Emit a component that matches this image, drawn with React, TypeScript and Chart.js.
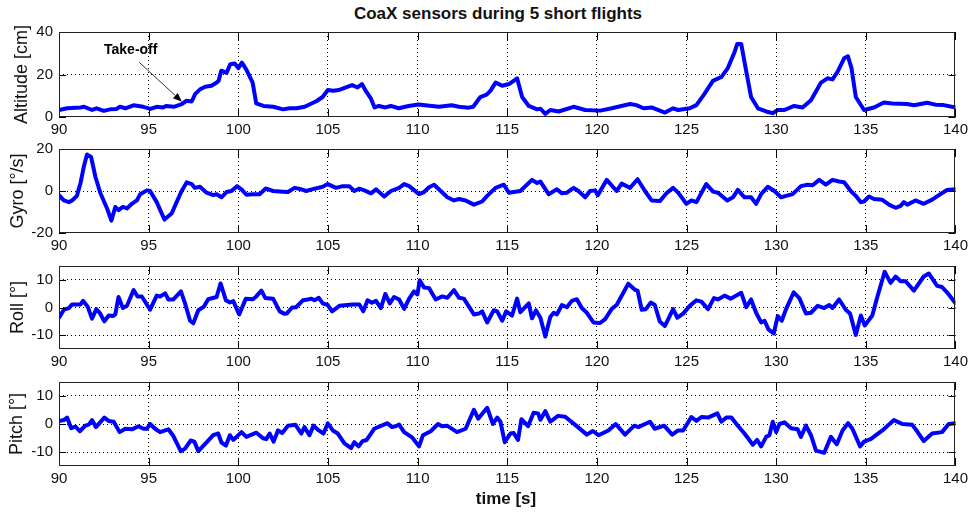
import React, { useEffect, useRef } from 'react';
import { Chart, registerables } from 'chart.js';

Chart.register(...registerables);

const FONT = '"Liberation Sans", Arial, Helvetica, sans-serif';

// ---------- text ----------
const titleText = 'CoaX sensors during 5 short flights';
const xLabel = 'time [s]';
const takeoffText = 'Take-off';

// ---------- x axis ----------
const xMin = 90;
const xMax = 140;
const xTicks = [90, 95, 100, 105, 110, 115, 120, 125, 130, 135, 140];

// ---------- Altitude ----------
const altLabel = 'Altitude [cm]';
const altTicks = [0, 20, 40];
const altTime = [90, 90.45, 91.2, 91.4, 91.85, 92.1, 92.5, 92.85, 93.2, 93.4, 93.7, 94.15, 94.7, 95.1, 95.45, 95.8, 96.0, 96.4, 96.85, 97.1, 97.4, 97.6, 97.85, 98.15, 98.5, 98.8, 98.9, 99.05, 99.35, 99.55, 99.8, 100.0, 100.2, 100.45, 100.8, 101.0, 101.4, 101.95, 102.5, 102.85, 103.25, 103.7, 104.35, 104.7, 105.0, 105.3, 105.6, 106.0, 106.35, 106.65, 106.9, 107.1, 107.4, 107.6, 107.85, 108.2, 108.5, 108.95, 109.5, 110.05, 110.8, 111.2, 111.9, 112.3, 112.85, 113.1, 113.5, 113.85, 114.07, 114.35, 114.72, 115.1, 115.55, 115.83, 116.2, 116.66, 116.85, 117.12, 117.4, 117.86, 118.7, 119.35, 120.18, 120.83, 121.85, 122.2, 122.6, 123.05, 123.33, 123.8, 124.25, 124.53, 125.18, 125.55, 126.0, 126.47, 126.94, 127.3, 127.68, 127.83, 128.05, 128.33, 128.6, 128.98, 129.44, 129.8, 130.09, 130.46, 131.0, 131.47, 131.94, 132.5, 132.86, 133.14, 133.42, 133.79, 134.0, 134.2, 134.44, 134.9, 135.46, 136.0, 136.47, 137.3, 137.68, 138.42, 138.88, 139.35, 140];
const altValues = [3.3, 4.1, 4.5, 4.8, 3.3, 4.1, 2.9, 3.6, 3.8, 4.8, 4.1, 5.5, 4.8, 3.8, 4.8, 4.5, 5.2, 4.8, 6.1, 7.6, 7.3, 10.9, 12.9, 14.2, 14.7, 16.2, 17.0, 21.8, 20.8, 24.8, 25.2, 23.0, 25.6, 22.3, 16.2, 6.4, 5.2, 4.8, 3.6, 4.1, 4.1, 4.8, 7.4, 9.4, 12.7, 12.4, 12.7, 13.9, 15.0, 13.9, 15.5, 12.4, 8.6, 4.5, 5.2, 4.5, 5.2, 4.1, 5.2, 5.9, 5.2, 4.8, 5.5, 4.8, 4.4, 4.8, 9.4, 10.5, 12.4, 16.2, 14.7, 15.5, 18.2, 9.4, 5.2, 3.6, 3.9, 1.5, 3.3, 2.6, 4.8, 3.3, 3.0, 4.1, 6.1, 5.6, 4.1, 4.5, 3.6, 2.1, 4.1, 3.3, 4.1, 5.6, 10.9, 17.0, 18.8, 23.0, 30.6, 34.4, 34.4, 21.5, 9.4, 4.1, 2.6, 1.8, 3.3, 3.3, 5.2, 4.5, 7.9, 16.2, 18.2, 17.7, 21.2, 27.6, 28.6, 23.0, 9.4, 3.3, 4.5, 6.8, 6.4, 6.1, 5.5, 6.7, 5.8, 5.6, 4.5];

// ---------- Gyro ----------
const gyroLabel = 'Gyro [°/s]';
const gyroTicks = [-20, 0, 20];
const gyroTime = [90, 90.27, 90.55, 90.73, 91.0, 91.2, 91.38, 91.56, 91.79, 92.03, 92.3, 92.68, 92.92, 93.14, 93.32, 93.56, 93.79, 94.06, 94.34, 94.53, 94.9, 95.08, 95.45, 95.88, 96.29, 96.56, 96.84, 97.12, 97.4, 97.58, 97.86, 98.23, 98.6, 98.79, 99.06, 99.34, 99.62, 99.93, 100.18, 100.45, 100.82, 101.2, 101.53, 101.94, 102.49, 102.77, 103.14, 103.51, 103.79, 104.25, 104.71, 104.99, 105.45, 105.82, 106.19, 106.47, 106.75, 107.03, 107.4, 107.68, 108.14, 108.51, 108.97, 109.25, 109.53, 110.08, 110.36, 110.64, 110.92, 111.29, 111.66, 112.03, 112.31, 112.68, 113.14, 113.6, 113.88, 114.35, 114.81, 115.09, 115.73, 116.38, 116.66, 116.85, 117.31, 117.77, 118.05, 118.33, 118.7, 118.97, 119.35, 119.62, 119.9, 120.05, 120.55, 121.1, 121.38, 121.85, 122.27, 122.68, 123.05, 123.51, 123.88, 124.25, 124.53, 124.99, 125.27, 125.55, 126.1, 126.48, 126.75, 127.27, 127.59, 127.86, 128.23, 128.6, 128.88, 129.16, 129.53, 129.9, 130.27, 130.55, 130.92, 131.38, 131.75, 132.03, 132.4, 132.77, 133.14, 133.51, 133.79, 134.16, 134.44, 134.72, 134.9, 135.18, 135.46, 135.92, 136.29, 136.66, 136.94, 137.12, 137.31, 137.77, 138.23, 138.7, 139.16, 139.53, 140];
const gyroValues = [-2.0, -4.5, -5.3, -4.5, -2.3, 3.8, 11.4, 17.4, 16.2, 6.8, -0.8, -8.3, -14.1, -7.6, -9.1, -7.6, -8.3, -6.1, -4.5, -1.5, 0.3, 0, -5.3, -13.6, -10.6, -5.3, 0, 4.1, 3.3, 1.5, 2.0, -0.8, -2.0, -1.5, -3.0, -0.5, 0, 2.3, 0.8, -1.8, -1.5, -1.5, 1.2, 0, -0.3, -0.5, 1.5, 0.8, 0, 1.1, 2.0, 3.3, 1.5, 2.3, 2.3, 0, 1.1, 0.3, -1.1, 0.8, -2.6, 0, 1.5, 3.3, 2.3, -1.5, -0.5, 1.8, 3.0, 0, -3.0, -4.5, -3.8, -4.5, -6.5, -5.0, -2.3, 1.5, 3.0, -0.8, 0, 5.3, 3.8, 4.5, -1.5, 0.8, -1.1, -0.8, 1.5, 0, -3.0, 0, 0.3, -2.0, 5.3, 0, 3.5, 1.5, 5.6, 0, -4.5, -4.8, -1.1, 1.5, -0.8, -6.1, -4.5, -5.3, 3.3, -0.3, -0.8, -4.5, -3.0, 0.5, -3.0, -3.0, -6.1, -1.5, 2.0, 0, -3.0, -2.3, -1.5, 2.3, 3.0, 2.7, 5.3, 3.0, 5.3, 4.5, 4.2, 0, -2.3, -5.3, -5.0, -2.6, -3.8, -4.2, -6.5, -8.0, -7.1, -5.3, -6.5, -4.5, -6.1, -4.1, -1.5, 0.5, 0.8];

// ---------- Roll ----------
const rollLabel = 'Roll [°]';
const angleTicks = [-10, 0, 10];
const rollTime = [90, 90.27, 90.55, 90.73, 91.2, 91.34, 91.6, 91.84, 92.08, 92.27, 92.53, 92.77, 93.01, 93.14, 93.32, 93.56, 93.79, 94.16, 94.38, 94.62, 95.08, 95.45, 95.64, 95.92, 96.1, 96.38, 96.8, 97.03, 97.31, 97.49, 97.77, 98.08, 98.32, 98.79, 99.01, 99.31, 99.53, 99.72, 100.05, 100.42, 100.82, 101.0, 101.29, 101.51, 101.94, 102.31, 102.58, 102.7, 103.0, 103.22, 103.6, 103.88, 104.06, 104.25, 104.49, 104.71, 104.99, 105.23, 105.64, 106.38, 106.75, 106.97, 107.21, 107.45, 107.68, 107.95, 108.2, 108.45, 108.69, 108.97, 109.25, 109.53, 109.8, 109.99, 110.12, 110.36, 110.64, 111.01, 111.38, 111.66, 112.03, 112.31, 112.58, 113.14, 113.42, 113.6, 113.88, 114.25, 114.44, 114.72, 114.94, 115.27, 115.55, 115.73, 116.2, 116.38, 116.6, 116.85, 117.12, 117.4, 117.59, 117.77, 118.05, 118.33, 118.6, 118.88, 119.16, 119.44, 119.81, 120.18, 120.46, 120.83, 121.1, 121.75, 122.12, 122.27, 122.5, 122.73, 123.01, 123.23, 123.51, 123.79, 124.25, 124.49, 124.81, 125.18, 125.55, 125.83, 126.2, 126.53, 126.75, 127.12, 127.46, 128.05, 128.33, 128.6, 128.88, 129.16, 129.35, 129.57, 129.86, 130.09, 130.31, 130.55, 130.98, 131.29, 131.66, 131.94, 132.31, 132.68, 132.96, 133.14, 133.51, 133.88, 134.12, 134.44, 134.72, 134.94, 135.36, 135.64, 136.05, 136.38, 136.66, 136.94, 137.22, 137.68, 138.23, 138.51, 138.98, 139.25, 139.53, 140];
const rollValues = [-3.7, -0.8, -0.2, 1.1, 1.1, 2.4, 0.3, -4.0, -0.6, -1.9, -5.0, -2.9, -3.1, -2.5, 3.8, -0.2, 0.6, 6.3, 4.0, 4.0, -0.8, 4.3, 4.0, 5.1, 2.9, 2.9, 5.8, 1.5, -4.8, -5.7, -1.0, 0.3, 3.0, 3.8, 8.7, 2.6, 1.8, 2.3, -2.5, 3.2, 3.0, 4.0, 6.1, 3.4, 3.2, -1.4, -2.3, -2.2, 0, 0.1, 2.6, 2.9, 3.2, 2.6, 3.5, 1.5, 0.9, -1.4, 0.6, 1.1, 1.1, -1.4, 2.6, 1.7, 2.4, -0.2, 4.9, 1.5, 3.8, 2.9, -0.5, 3.2, 5.8, 4.7, 9.8, 7.2, 7.0, 2.9, 4.0, 3.5, 6.3, 3.5, 3.2, -2.5, -2.2, -1.4, -5.4, -1.0, -1.4, -4.8, -1.4, -2.9, 3.2, -1.7, 1.5, -3.9, -1.0, -3.7, -10.5, -3.4, -1.9, -2.5, 0.9, 0.1, 2.4, 3.0, -0.2, -1.9, -5.4, -5.6, -4.2, -0.5, 0.9, 8.6, 6.4, 6.1, -0.8, -0.6, 1.8, 0.9, -5.1, -6.7, -0.6, -3.7, -2.2, 0.6, 2.6, 2.1, -0.6, 3.4, 2.9, 4.3, 3.2, 5.3, 0.1, 2.9, -1.9, -5.4, -4.8, -7.9, -9.4, -3.1, -4.8, -0.6, 5.5, 3.4, -2.2, -1.9, 0.6, -0.2, 0.9, -0.2, 2.9, -0.8, -2.2, -9.9, -2.9, -6.5, -2.9, 3.8, 12.9, 8.9, 11.2, 9.5, 9.5, 6.1, 11.2, 12.3, 7.8, 7.4, 5.5, 1.5];

// ---------- Pitch ----------
const pitchLabel = 'Pitch [°]';
const pitchTime = [90, 90.27, 90.45, 90.68, 90.92, 91.16, 91.47, 91.66, 91.84, 92.06, 92.53, 92.77, 93.05, 93.38, 93.7, 94.07, 94.44, 94.71, 94.9, 95.08, 95.36, 95.64, 95.92, 96.1, 96.38, 96.79, 97.03, 97.34, 97.55, 97.77, 98.23, 98.6, 98.88, 99.06, 99.31, 99.53, 99.72, 100.18, 100.45, 101.01, 101.38, 101.56, 101.75, 101.97, 102.21, 102.45, 102.77, 103.19, 103.51, 103.69, 103.97, 104.19, 104.49, 104.75, 104.99, 105.27, 105.55, 105.92, 106.29, 106.47, 106.71, 106.93, 107.16, 107.58, 108.32, 108.56, 108.78, 108.97, 109.25, 109.71, 110.08, 110.3, 110.73, 111.14, 111.36, 111.64, 112.2, 112.68, 113.14, 113.38, 113.88, 114.2, 114.44, 114.62, 114.86, 115.18, 115.36, 115.6, 115.79, 116.16, 116.47, 116.72, 116.85, 117.12, 117.4, 117.83, 118.23, 118.79, 119.44, 119.77, 120.09, 120.64, 121.05, 121.57, 122.09, 122.31, 122.96, 123.23, 123.75, 124.2, 124.53, 124.81, 125.27, 125.55, 125.83, 126.2, 126.72, 126.94, 127.22, 127.5, 127.86, 128.23, 128.7, 128.94, 129.16, 129.44, 129.62, 129.81, 130.0, 130.18, 130.46, 130.83, 131.2, 131.38, 131.66, 131.94, 132.22, 132.68, 133.05, 133.38, 133.7, 134.01, 134.25, 134.68, 134.9, 135.27, 135.92, 136.57, 137.03, 137.59, 137.86, 138.23, 138.7, 139.25, 139.62, 140];
const pitchValues = [1.1, 1.4, 2.3, -1.5, -0.9, -2.6, -0.6, -0.2, 1.4, -1.1, 2.3, 1.1, 0.8, -2.9, -1.7, -1.9, -0.8, -1.7, -1.7, 0, -1.7, -2.9, -2.3, -1.9, -4.3, -9.7, -8.8, -5.9, -6.3, -9.7, -6.6, -4.0, -3.4, -6.6, -7.7, -4.0, -5.7, -2.9, -4.6, -3.1, -5.1, -5.4, -3.4, -6.3, -2.3, -3.2, -0.6, -0.3, -3.4, -1.1, -4.0, -0.6, -2.3, -3.4, 0.2, -2.3, -3.4, -6.9, -8.6, -6.5, -8.0, -6.1, -5.7, -1.7, 0.3, -1.1, -0.8, -0.2, -2.9, -4.9, -8.0, -4.0, -2.6, 0, -0.8, -0.6, -2.9, -1.7, 5.1, 1.9, 5.8, 0, 2.3, 0.8, -6.5, -3.4, -3.2, -5.7, 1.7, -0.8, 4.0, 3.8, 1.5, 4.6, 0.8, 2.9, 2.6, -0.3, -3.8, -2.5, -4.0, -2.3, 0, -3.8, -0.6, -1.1, 0.8, -1.7, -0.6, -3.8, -2.3, -2.3, 2.5, 1.1, 2.5, 2.3, 3.8, 0.8, 2.3, 2.3, -0.6, -3.4, -7.4, -5.7, -8.0, -4.6, -4.0, 0.8, -2.9, 0, 0.6, -1.5, -1.9, -4.6, -0.6, -4.0, -9.5, -10.3, -4.6, -7.2, -2.3, 0.3, -1.7, -8.0, -6.3, -5.4, -2.3, 1.4, 0, -0.3, -2.6, -6.1, -3.4, -2.9, 0, 0.3];

// ---------- annotation anchor (data units) ----------
const takeoffLabelAt = [94.0, 31.5];
const takeoffArrowFrom = [94.48, 25.7];
const takeoffArrowTo = [96.86, 7.2];

// ---------- layout ----------
const W = 972;
const PLOT_LEFT = 59;
const PLOT_RIGHT = 958;
const PAD_TOP = 12;
const X_AXIS_H = 26;

const framePlugin = {
  id: 'frameTicks',
  afterDraw(chart: any) {
    const { ctx, chartArea, scales } = chart;
    const { left, right, top, bottom } = chartArea;
    const xs = scales.x;
    const ys = scales.y;
    ctx.save();
    ctx.setLineDash([]);
    ctx.strokeStyle = '#000';
    ctx.lineWidth = 1;
    ctx.beginPath();
    xs.ticks.forEach((t: any) => {
      const px = Math.round(xs.getPixelForValue(t.value)) + 0.5;
      ctx.moveTo(px, bottom);
      ctx.lineTo(px, bottom - 8);
      ctx.moveTo(px, top);
      ctx.lineTo(px, top + 8);
    });
    ys.ticks.forEach((t: any) => {
      const py = Math.round(ys.getPixelForValue(t.value)) + 0.5;
      ctx.moveTo(left, py);
      ctx.lineTo(left + 7, py);
      ctx.moveTo(right, py);
      ctx.lineTo(right - 7, py);
    });
    ctx.stroke();
    ctx.strokeStyle = '#222';
    ctx.strokeRect(Math.round(left) + 0.5, Math.round(top) + 0.5, Math.round(right - left) - 1, Math.round(bottom - top) - 1);
    ctx.restore();
  },
};

const takeoffPlugin = {
  id: 'takeoff',
  afterDatasetsDraw(chart: any) {
    const { ctx, scales } = chart;
    const xs = scales.x;
    const ys = scales.y;
    const tx = xs.getPixelForValue(takeoffLabelAt[0]);
    const ty = ys.getPixelForValue(takeoffLabelAt[1]);
    const x1 = xs.getPixelForValue(takeoffArrowFrom[0]);
    const y1 = ys.getPixelForValue(takeoffArrowFrom[1]);
    const x2 = xs.getPixelForValue(takeoffArrowTo[0]);
    const y2 = ys.getPixelForValue(takeoffArrowTo[1]);
    ctx.save();
    ctx.fillStyle = '#000';
    ctx.font = `bold 14px ${FONT}`;
    ctx.textAlign = 'center';
    ctx.textBaseline = 'middle';
    ctx.fillText(takeoffText, tx, ty);
    const ang = Math.atan2(y2 - y1, x2 - x1);
    const hl = 9;
    const hw = 3.5;
    const bx = x2 - hl * Math.cos(ang);
    const by = y2 - hl * Math.sin(ang);
    ctx.strokeStyle = '#333';
    ctx.lineWidth = 1;
    ctx.beginPath();
    ctx.moveTo(x1, y1);
    ctx.lineTo(bx, by);
    ctx.stroke();
    ctx.beginPath();
    ctx.moveTo(x2, y2);
    ctx.lineTo(bx + hw * Math.sin(ang), by - hw * Math.cos(ang));
    ctx.lineTo(bx - hw * Math.sin(ang), by + hw * Math.cos(ang));
    ctx.closePath();
    ctx.fill();
    ctx.restore();
  },
};

type PanelProps = {
  top: number;
  height: number;
  times: number[];
  values: number[];
  yMin: number;
  yMax: number;
  yTicks: number[];
  yLabel: string;
  labelPad: number;
  annotate?: boolean;
};

function Panel(props: PanelProps) {
  const ref = useRef<HTMLCanvasElement>(null);
  const { top, height, times, values, yMin, yMax, yTicks, yLabel, labelPad, annotate } = props;
  const canvasH = PAD_TOP + height + X_AXIS_H;
  useEffect(() => {
    const canvas = ref.current;
    if (!canvas) return;
    const plugins: any[] = [framePlugin];
    if (annotate) plugins.push(takeoffPlugin);
    const gridColor = (lo: number, hi: number) => (c: any) =>
      c.tick && (c.tick.value === lo || c.tick.value === hi) ? 'rgba(0,0,0,0)' : '#000';
    const chart = new Chart(canvas, {
      type: 'line',
      data: {
        datasets: [
          {
            data: times.map((t, i) => ({ x: t, y: values[i] })),
            borderColor: '#0000ff',
            borderWidth: 4,
            pointRadius: 0,
            tension: 0,
            fill: false,
            borderJoinStyle: 'round',
            borderCapStyle: 'round',
          },
        ],
      },
      options: {
        responsive: false,
        maintainAspectRatio: false,
        animation: false,
        devicePixelRatio: 1,
        events: [],
        layout: { padding: { top: PAD_TOP, right: W - PLOT_RIGHT, left: 0, bottom: 0 } },
        plugins: { legend: { display: false }, tooltip: { enabled: false }, title: { display: false } },
        scales: {
          x: {
            type: 'linear',
            min: xMin,
            max: xMax,
            afterBuildTicks: (s: any) => {
              s.ticks = xTicks.map((v) => ({ value: v }));
            },
            afterFit: (s: any) => {
              s.height = X_AXIS_H;
            },
            grid: { color: gridColor(xMin, xMax), lineWidth: 1, drawTicks: false },
            border: { display: false, dash: [1, 3] },
            ticks: {
              color: '#111',
              font: { family: FONT, size: 15 },
              padding: 4,
              maxRotation: 0,
              autoSkip: false,
            },
          },
          y: {
            type: 'linear',
            min: yMin,
            max: yMax,
            afterBuildTicks: (s: any) => {
              s.ticks = yTicks.map((v) => ({ value: v }));
            },
            afterFit: (s: any) => {
              s.width = PLOT_LEFT;
            },
            grid: { color: gridColor(yMin, yMax), lineWidth: 1, drawTicks: false },
            border: { display: false, dash: [1, 3] },
            ticks: {
              color: '#111',
              font: { family: FONT, size: 15 },
              padding: 6,
              autoSkip: false,
            },
            title: {
              display: true,
              text: yLabel,
              color: '#111',
              font: { family: FONT, size: 18 },
              padding: { top: labelPad, bottom: 0 },
            },
          },
        },
      } as any,
      plugins,
    });
    return () => chart.destroy();
  }, []);
  return (
    <canvas
      ref={ref}
      width={W}
      height={canvasH}
      style={{ position: 'absolute', left: 0, top: top - PAD_TOP, width: W, height: canvasH, display: 'block' }}
    />
  );
}

export default function App() {
  return (
    <div style={{ position: 'absolute', left: 0, top: 0, width: W, height: 512, background: '#fff', overflow: 'hidden' }}>
      <div
        style={{
          position: 'absolute',
          left: 0,
          top: 4,
          width: 996,
          textAlign: 'center',
          font: `bold 17px ${FONT}`,
          lineHeight: '20px',
          color: '#111',
        }}
      >
        {titleText}
      </div>
      <Panel top={29} height={88} times={altTime} values={altValues} yMin={0} yMax={40} yTicks={altTicks} yLabel={altLabel} labelPad={11} annotate />
      <Panel top={146} height={87} times={gyroTime} values={gyroValues} yMin={-20} yMax={20} yTicks={gyroTicks} yLabel={gyroLabel} labelPad={7.5} />
      <Panel top={263} height={86} times={rollTime} values={rollValues} yMin={-15} yMax={15} yTicks={angleTicks} yLabel={rollLabel} labelPad={7} />
      <Panel top={379} height={87} times={pitchTime} values={pitchValues} yMin={-15} yMax={15} yTicks={angleTicks} yLabel={pitchLabel} labelPad={6} />
      <div
        style={{
          position: 'absolute',
          left: 0,
          top: 489,
          width: 1012,
          textAlign: 'center',
          font: `bold 17px ${FONT}`,
          lineHeight: '20px',
          color: '#111',
        }}
      >
        {xLabel}
      </div>
    </div>
  );
}
